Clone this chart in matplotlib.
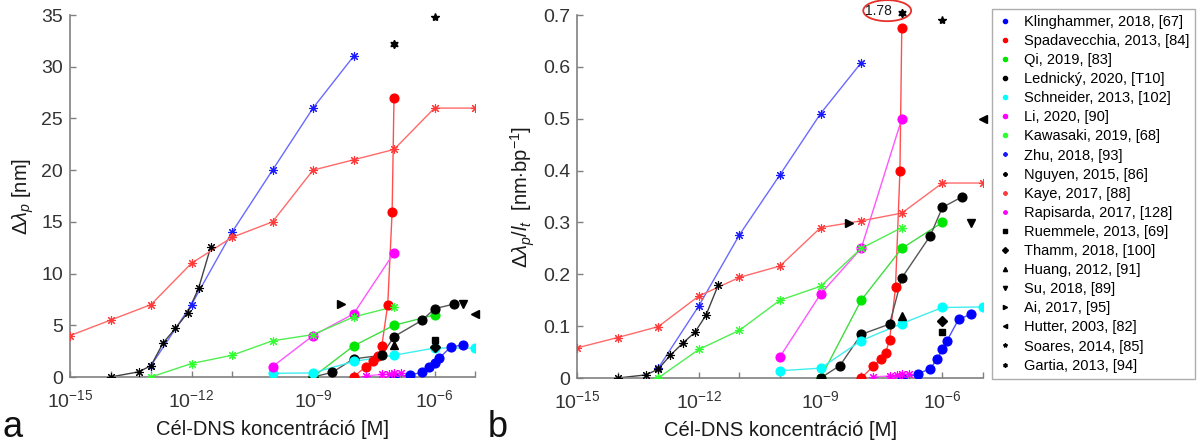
import numpy as np
import matplotlib.pyplot as plt
from matplotlib.lines import Line2D
from matplotlib.patches import Ellipse
from matplotlib.ticker import NullFormatter

plt.rcParams['font.family'] = ['Liberation Sans', 'DejaVu Sans']
plt.rcParams['mathtext.fontset'] = 'custom'
plt.rcParams['mathtext.rm'] = 'Liberation Sans'
plt.rcParams['mathtext.it'] = 'Liberation Sans:italic'
plt.rcParams['mathtext.bf'] = 'Liberation Sans:bold'

# concentration [M], shift [nm], shift per length [nm/bp]
conc_klinghammer = [1e-7, 2.5e-7, 5e-7, 7.5e-7, 1e-6, 1.3e-6, 2.5e-6, 5e-6]
shift_klinghammer = [0, 0.2, 0.45, 1.0, 1.4, 1.8, 2.9, 3.1]
norm_klinghammer = [0, 0.008, 0.018, 0.037, 0.055, 0.072, 0.113, 0.123]

conc_spadavecchia = [1e-8, 2e-8, 3e-8, 4e-8, 5e-8, 7e-8, 9e-8, 1e-7]
shift_spadavecchia = [0, 1.0, 1.5, 2.0, 3.0, 7.0, 16.0, 27.0]
norm_spadavecchia = [0, 0.023, 0.036, 0.049, 0.073, 0.175, 0.40, 0.675]

conc_qi = [1e-9, 1e-8, 1e-7, 1e-6]
shift_qi = [0, 3.0, 5.0, 6.0]
norm_qi = [0, 0.15, 0.25, 0.30]

conc_lednicky = [1e-9, 3e-9, 1e-8, 5e-8, 1e-7, 5e-7, 1e-6, 3e-6]
shift_lednicky = [0, 0.45, 1.75, 2.1, 3.9, 5.5, 6.6, 7.05]
norm_lednicky = [0, 0.024, 0.084, 0.104, 0.193, 0.274, 0.329, 0.349]

conc_schneider = [1e-10, 1e-9, 1e-8, 1e-7, 1e-6, 1e-5]
shift_schneider = [0.35, 0.4, 1.5, 2.1, 2.8, 2.8]
norm_schneider = [0.014, 0.019, 0.072, 0.105, 0.136, 0.137]

conc_li = [1e-10, 1e-9, 1e-8, 1e-7]
shift_li = [1.0, 4.0, 6.1, 12.0]
norm_li = [0.041, 0.162, 0.25, 0.5]

conc_kawasaki = [1e-13, 1e-12, 1e-11, 1e-10, 1e-9, 1e-8, 1e-7]
shift_kawasaki = [0, 1.3, 2.1, 3.5, 4.1, 5.8, 6.8]
norm_kawasaki = [0, 0.055, 0.092, 0.15, 0.177, 0.25, 0.29]

conc_zhu = [1e-13, 1e-12, 1e-11, 1e-10, 1e-9, 1e-8]
shift_zhu = [1.1, 7.0, 14.0, 20.0, 26.0, 31.0]
norm_zhu = [0.019, 0.139, 0.276, 0.392, 0.51, 0.608]

conc_nguyen = [1e-14, 5e-14, 1e-13, 2e-13, 4e-13, 8e-13, 1.5e-12, 3e-12]
shift_nguyen = [0, 0.5, 1.1, 3.3, 4.7, 6.2, 8.6, 12.6]
norm_nguyen = [0, 0.006, 0.017, 0.044, 0.067, 0.088, 0.121, 0.179]

conc_kaye = [1e-15, 1e-14, 1e-13, 1e-12, 1e-11, 1e-10, 1e-9, 1e-8, 1e-7, 1e-6, 1e-5]
shift_kaye = [4.0, 5.5, 7.0, 11.0, 13.5, 15.0, 20.0, 21.0, 22.0, 26.0, 26.0]
norm_kaye = [0.058, 0.078, 0.099, 0.158, 0.194, 0.216, 0.29, 0.303, 0.318, 0.376, 0.376]

conc_rapisarda = [2e-8, 5e-8, 7.5e-8, 1e-7, 1.5e-7]
shift_rapisarda = [0.1, 0.25, 0.3, 0.35, 0.4]
norm_rapisarda = [0.002, 0.004, 0.006, 0.007, 0.008]

# single measurements: Ruemmele, Thamm, Huang, Su, Ai, Hutter, Soares, Gartia
conc_single = [1e-6, 1e-6, 1e-7, 5e-6, 5e-9, 1e-5, 1e-6, 1e-7]
shift_single = [3.6, 2.9, 3.1, 7.05, 7.1, 6.1, 34.8, 32.2]
norm_single = [0.088, 0.11, 0.119, 0.298, 0.299, 0.499, 0.69, 1.78]

labels = [
    "Klinghammer, 2018, [67]", "Spadavecchia, 2013, [84]", "Qi, 2019, [83]",
    "Lednický, 2020, [T10]", "Schneider, 2013, [102]", "Li, 2020, [90]",
    "Kawasaki, 2019, [68]", "Zhu, 2018, [93]", "Nguyen, 2015, [86]",
    "Kaye, 2017, [88]", "Rapisarda, 2017, [128]", "Ruemmele, 2013, [69]",
    "Thamm, 2018, [100]", "Huang, 2012, [91]", "Su, 2018, [89]",
    "Ai, 2017, [95]", "Hutter, 2003, [82]", "Soares, 2014, [85]",
    "Gartia, 2013, [94]",
]

ASTER = (8, 2, 0)
HEXA = (6, 1, 0)

# (conc, shift, norm, marker colour, line colour, marker, marker size)
series = [
    (conc_klinghammer, shift_klinghammer, norm_klinghammer, '#0000ff', '#5050ff', 'o', 6.5),
    (conc_spadavecchia, shift_spadavecchia, norm_spadavecchia, '#ff0000', '#ff5050', 'o', 6.5),
    (conc_qi, shift_qi, norm_qi, '#00e600', '#40dd40', 'o', 6.5),
    (conc_lednicky, shift_lednicky, norm_lednicky, '#000000', '#555555', 'o', 6.5),
    (conc_schneider, shift_schneider, norm_schneider, '#00ffff', '#40eeee', 'o', 6.5),
    (conc_li, shift_li, norm_li, '#ff00ff', '#ff55ff', 'o', 6.5),
    (conc_kawasaki, shift_kawasaki, norm_kawasaki, '#30ff30', '#50ee50', ASTER, 6.5),
    (conc_zhu, shift_zhu, norm_zhu, '#1a1aff', '#6a6aff', ASTER, 6.5),
    (conc_nguyen, shift_nguyen, norm_nguyen, '#000000', '#404040', ASTER, 6.5),
    (conc_kaye, shift_kaye, norm_kaye, '#ff3a3a', '#ff6a6a', ASTER, 6.5),
    (conc_rapisarda, shift_rapisarda, norm_rapisarda, '#ff00ff', '#ff66ff', ASTER, 6.5),
]
single_markers = ['s', 'D', '^', 'v', '>', '<', '*', HEXA]
single_sizes = [5, 5, 6, 6, 6, 6, 6, 6]

fig = plt.figure(figsize=(11.99, 4.48), dpi=100)
ax1 = fig.add_axes([70 / 1199, 71 / 448, 405 / 1199, 362 / 448])
ax2 = fig.add_axes([577 / 1199, 70 / 448, 406 / 1199, 363 / 448])

for idx, ax in enumerate((ax1, ax2)):
    for conc, shift, norm, mcol, lcol, mk, ms in series:
        vals = shift if idx == 0 else norm
        ax.plot(conc, vals, '-', color=lcol, lw=1.0, zorder=2)
        ax.plot(conc, vals, linestyle='none', marker=mk, ms=ms, color=mcol,
                mec=mcol, mfc=mcol, mew=0.8, zorder=3)
    ymax = 35 if idx == 0 else 0.7
    vals = shift_single if idx == 0 else norm_single
    for c, v, mk, ms in zip(conc_single, vals, single_markers, single_sizes):
        # values above the axis are pinned to its top edge
        ax.plot([c], [min(v, ymax * 1.006)], linestyle='none', marker=mk, ms=ms,
                color='k', zorder=4, clip_on=False)

    ax.set_xscale('log')
    ax.set_xlim(1e-15, 1e-5)
    ax.set_ylim(0, ymax)
    ax.set_xticks([10.0 ** e for e in range(-15, -4)])
    ax.set_xticklabels(['$\\mathdefault{10^{%d}}$' % e if e in (-15, -12, -9, -6) else ''
                        for e in range(-15, -4)])
    ax.xaxis.set_minor_formatter(NullFormatter())
    ax.minorticks_off()
    for s in ('top', 'right'):
        ax.spines[s].set_visible(False)
    for s in ('left', 'bottom'):
        ax.spines[s].set_color('#808080')
        ax.spines[s].set_linewidth(1.2)
    ax.tick_params(direction='in', length=4, width=1.0, color='#808080',
                   labelsize=14, labelcolor='#333333')
    ax.tick_params(axis='x', pad=9)
    ax.tick_params(axis='y', pad=5)
    ax.set_xlabel('Cél-DNS koncentráció [M]', fontsize=14.5, color='#1a1a1a', labelpad=6)

ax1.set_yticks(np.arange(0, 36, 5))
ax2.set_yticks(np.arange(0, 0.71, 0.1))
ax2.set_yticklabels(['0', '0.1', '0.2', '0.3', '0.4', '0.5', '0.6', '0.7'])
ax1.set_ylabel('$\\Delta\\lambda_p$ [nm]', fontsize=14.5, color='#1a1a1a', labelpad=4)
ax2.set_ylabel('$\\Delta\\lambda_p/l_t$  [nm$\\cdot$bp$^{-1}$]', fontsize=14.5,
               color='#1a1a1a', labelpad=4)

# off-scale point: value shown as a circled label
ax2.add_patch(Ellipse((0.764, 1.012), 0.118, 0.058, transform=ax2.transAxes,
                      fill=False, ec='#e8302a', lw=1.3, clip_on=False))
ax2.text(0.742, 1.012, '1.78', transform=ax2.transAxes, fontsize=10,
         ha='center', va='center', color='#1a1a1a')

fig.text(3 / 1199, 11 / 448, 'a', fontsize=26, color='#111111')
fig.text(488 / 1199, 11 / 448, 'b', fontsize=26, color='#111111')

legend_markers = ['o'] * 7 + [ASTER] * 4 + single_markers
legend_colors = [s[3] for s in series] + ['k'] * len(single_markers)
handles = [Line2D([], [], linestyle='none', marker=m, ms=3, color=c, mec=c, mfc=c)
           for m, c in zip(legend_markers, legend_colors)]
fig.legend(handles, labels, loc='upper left', bbox_to_anchor=(992 / 1199, 1 - 9 / 448),
           fontsize=10.5, frameon=True, fancybox=False, edgecolor='#999999',
           labelspacing=0.35, handlelength=1.0, handletextpad=0.8, borderpad=0.4,
           borderaxespad=0)

fig.savefig('out.png', dpi=100)
